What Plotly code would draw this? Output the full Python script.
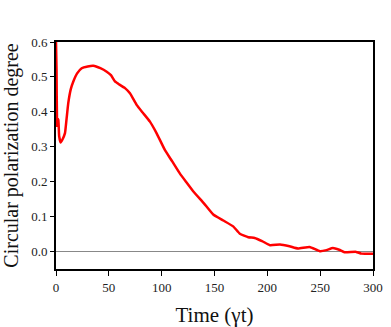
import plotly.graph_objects as go

# time (gamma t) and circular polarization degree
time = [0, 0.5, 1, 1.5, 2.2, 3, 4.4, 6, 8.5, 10, 11.6, 14, 16.4, 20, 24.3, 30, 35.3, 42,
        48, 52, 55.8, 60, 65.3, 70, 76.3, 82, 88.9, 95, 103, 110, 117.3, 123, 130, 140,
        148.8, 158.3, 167.7, 174, 182, 188, 195, 202.5, 212, 221, 229, 240, 249.8, 256,
        262, 268, 273, 284, 289, 300]
cpd = [0.6, 0.52, 0.36, 0.38, 0.377, 0.33, 0.312, 0.32, 0.339, 0.38, 0.425, 0.465, 0.487,
       0.51, 0.525, 0.53, 0.532, 0.525, 0.515, 0.505, 0.487, 0.478, 0.468, 0.453, 0.42,
       0.398, 0.372, 0.34, 0.291, 0.258, 0.223, 0.2, 0.172, 0.138, 0.106, 0.089, 0.072,
       0.051, 0.041, 0.039, 0.03, 0.018, 0.02, 0.015, 0.0086, 0.013, 0.001, 0.004, 0.01,
       0.005, -0.002, -0.001, -0.006, -0.006]

fig = go.Figure()
fig.add_trace(go.Scatter(x=time, y=cpd, mode="lines",
                         line=dict(color="#ff0000", width=2.5, shape="spline", smoothing=0.4)))

font = "Liberation Serif, Times New Roman, serif"
fig.update_xaxes(range=[0, 300], tickvals=[0, 50, 100, 150, 200, 250, 300],
                 showgrid=False, zeroline=False, showline=True, linecolor="black",
                 linewidth=2, mirror=True, ticks="outside", ticklen=5, tickcolor="black",
                 tickfont=dict(family=font, size=13, color="#222"), automargin=False,
                 title=dict(text="Time (γt)", font=dict(family=font, size=21, color="#111")))
fig.update_yaxes(range=[-0.05, 0.6], tickvals=[0, 0.1, 0.2, 0.3, 0.4, 0.5, 0.6],
                 tickformat=".1f", showgrid=False, zeroline=True, zerolinecolor="#888",
                 zerolinewidth=1, showline=True, linecolor="black", linewidth=2,
                 mirror=True, ticks="outside", ticklen=4, tickcolor="black",
                 tickfont=dict(family=font, size=13, color="#222"), automargin=False,
                 title=dict(text="Circular polarization degree",
                            font=dict(family=font, size=20, color="#111")))
fig.update_layout(width=391, height=327, margin=dict(l=56, r=18, t=42, b=58),
                  plot_bgcolor="white", paper_bgcolor="white", showlegend=False)
# page body has an 8px default margin; drop it so the figure sits at the corner
fig.write_html("out.html", config={"displayModeBar": False},
               post_script="document.body.style.margin='0';")
